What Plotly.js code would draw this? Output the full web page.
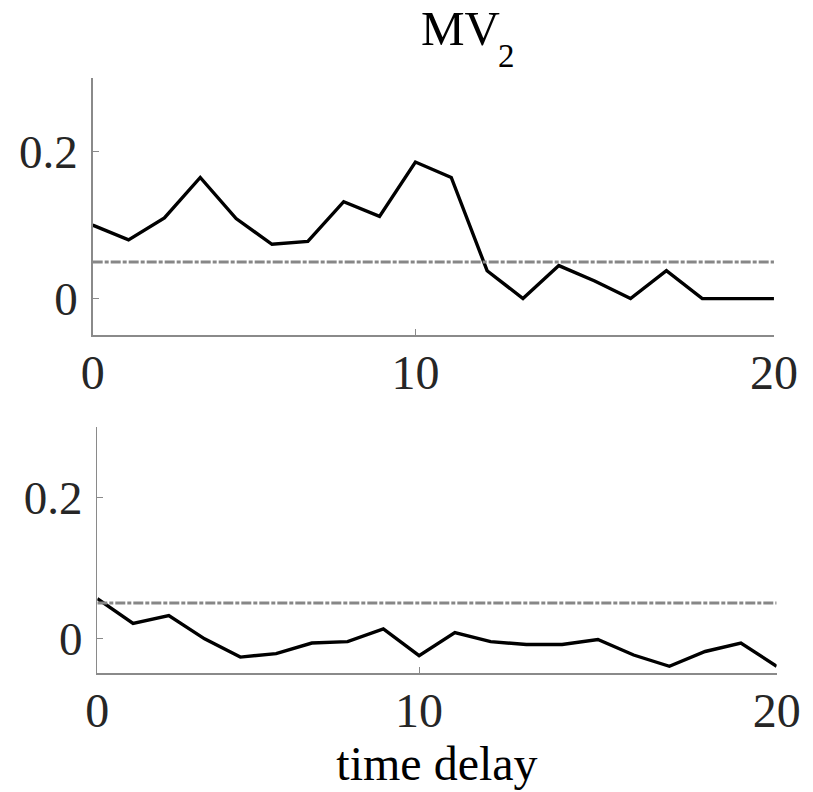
<!DOCTYPE html>
<html>
<head>
<meta charset="utf-8">
<script src="https://cdn.plot.ly/plotly-3.0.1.min.js"></script>
<style>html,body{margin:0;padding:0;background:#fff;}#chart{width:813px;height:792px;}</style>
</head>
<body>
<div id="chart"></div>
<script>
// time delay index (ticks labelled 0, 10, 20)
const delays = [1,2,3,4,5,6,7,8,9,10,11,12,13,14,15,16,17,18,19,20];
const tickVals = [1, 10, 20];
const tickText = ['0', '10', '20'];
const yTickVals = [0, 0.2];
const yTickText = ['0', '0.2'];

const topSeries = [0.100,0.080,0.110,0.165,0.109,0.074,0.078,0.132,0.112,0.186,
                   0.165,0.038,0.000,0.045,0.024,0.000,0.038,0.000,0.000,0.000];
const bottomSeries = [0.056,0.021,0.032,-0.001,-0.027,-0.022,-0.007,-0.005,0.013,-0.025,
                      0.008,-0.005,-0.009,-0.009,-0.002,-0.024,-0.040,-0.019,-0.007,-0.040];
const threshold = 0.05;
const thresholdX = [1, 20];

const titleMain = 'MV';
const titleSub = '2';
const xLabel = 'time delay';

const fontFam = 'Liberation Serif, Times New Roman, serif';
const tickColor = '#262626';
const axisColor = '#8a8a8a';

const dataLine = {width: 3.4, color: '#000000'};
const dashLine = {width: 3, color: '#878787', dash: '10px,2px,4px,2px'};

const traces = [
  {x: delays, y: topSeries, xaxis: 'x', yaxis: 'y', mode: 'lines', line: dataLine, hoverinfo: 'skip'},
  {x: thresholdX, y: [threshold, threshold], xaxis: 'x', yaxis: 'y', mode: 'lines', line: dashLine, hoverinfo: 'skip'},
  {x: delays, y: bottomSeries, xaxis: 'x2', yaxis: 'y2', mode: 'lines', line: dataLine, hoverinfo: 'skip'},
  {x: thresholdX, y: [threshold, threshold], xaxis: 'x2', yaxis: 'y2', mode: 'lines', line: dashLine, hoverinfo: 'skip'}
];

function xAx(domain, anchor) {
  return {
    domain: domain, anchor: anchor, range: [1, 20],
    tickvals: tickVals, ticktext: tickText,
    ticks: 'inside', ticklen: 6, tickwidth: 1.2, tickcolor: axisColor,
    showline: true, linecolor: axisColor, linewidth: 1.5,
    showgrid: false, zeroline: false, automargin: false,
    tickfont: {family: fontFam, size: 48, color: tickColor},
    ticklabelstandoff: -5
  };
}
function yAx(domain, anchor) {
  return {
    domain: domain, anchor: anchor, range: [-0.05, 0.3],
    tickvals: yTickVals, ticktext: yTickText,
    ticks: 'inside', ticklen: 6, tickwidth: 1.2, tickcolor: axisColor,
    showline: true, linecolor: axisColor, linewidth: 1.5,
    showgrid: false, zeroline: false, automargin: false,
    tickfont: {family: fontFam, size: 47, color: tickColor},
    ticklabelstandoff: 4
  };
}

const layout = {
  width: 813, height: 792,
  margin: {l: 0, r: 0, t: 0, b: 0},
  paper_bgcolor: '#ffffff', plot_bgcolor: '#ffffff',
  showlegend: false,
  font: {family: fontFam, color: '#000000'},
  title: {text: titleMain, font: {family: fontFam, size: 49, color: '#000000'},
          x: 0.5664, xanchor: 'center', y: 0.9653, yanchor: 'middle', xref: 'paper', yref: 'container'},
  annotations: [{text: titleSub, xref: 'paper', yref: 'paper', x: 0.6236, y: 0.9293,
                 xanchor: 'center', yanchor: 'middle', showarrow: false,
                 font: {family: fontFam, size: 33, color: '#000000'}}],
  xaxis: xAx([0.1140, 0.9520], 'y'),
  yaxis: yAx([0.5766, 0.9011], 'x'),
  xaxis2: Object.assign(xAx([0.1197, 0.9553], 'y2'),
    {title: {text: xLabel, font: {family: fontFam, size: 48, color: '#000000'}, standoff: 0}}),
  yaxis2: yAx([0.1499, 0.4605], 'x2')
};

Plotly.newPlot('chart', traces, layout, {staticPlot: true, displayModeBar: false});
</script>
</body>
</html>
